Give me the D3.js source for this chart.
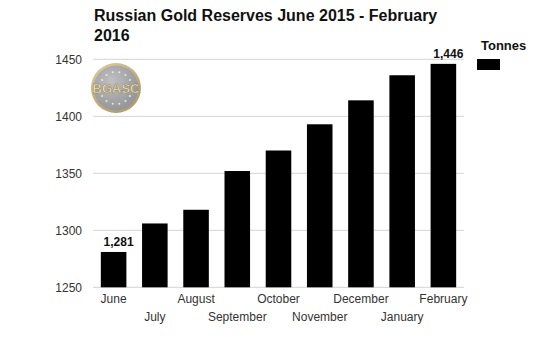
<!DOCTYPE html>
<html>
<head>
<meta charset="utf-8">
<script src="https://cdn.jsdelivr.net/npm/d3@7"></script>
<style>
  html, body { margin: 0; padding: 0; background: #fff; }
  svg { display: block; font-family: Arial, "Liberation Sans", sans-serif; }
</style>
</head>
<body>
<svg id="chart" width="551" height="338"></svg>
<script>
// Russian gold reserves, tonnes, monthly
const months = ["June", "July", "August", "September", "October", "November", "December", "January", "February"];
const tonnes = [1281, 1306, 1318, 1352, 1370, 1393, 1414, 1436, 1446];
const yTicks = [1250, 1300, 1350, 1400, 1450];
const labelled = { "June": "1,281", "February": "1,446" };
const titleLines = ["Russian Gold Reserves June 2015 - February", "2016"];
const seriesName = "Tonnes";

const svg = d3.select("#chart");
const plotLeft = 93, plotRight = 464, plotTop = 59.3, plotBottom = 287.3;

const x = d3.scaleBand().domain(months).range([plotLeft, plotRight]).paddingInner(0.38).paddingOuter(0.19);
const y = d3.scaleLinear().domain([1250, 1450]).range([plotBottom, plotTop]);

// title
const title = svg.append("text").attr("x", 94).attr("y", 21)
  .attr("font-size", 16).attr("font-weight", "bold").attr("fill", "#111");
titleLines.forEach((t, i) => title.append("tspan").attr("x", 94).attr("dy", i ? 20 : 0).text(t));

// gridlines
svg.append("g").selectAll("line").data(yTicks).join("line")
  .attr("x1", plotLeft).attr("x2", plotRight)
  .attr("y1", d => y(d)).attr("y2", d => y(d))
  .attr("stroke", "#d4d4d4").attr("stroke-width", 1);

// y axis labels
const yAxis = svg.append("g").attr("transform", `translate(${plotLeft},0)`)
  .call(d3.axisLeft(y).tickValues(yTicks).tickSize(0).tickPadding(11).tickFormat(d3.format("d")));
yAxis.select(".domain").remove();
yAxis.selectAll("text").attr("font-size", 12).attr("fill", "#333")
  .attr("font-family", "Arial, 'Liberation Sans', sans-serif");

// logo badge
const logo = svg.append("g").attr("transform", "translate(116,88)").attr("opacity", 0.9);
const defs = svg.append("defs");
const rim = defs.append("radialGradient").attr("id", "rim").attr("cx", "40%").attr("cy", "35%").attr("r", "70%");
rim.append("stop").attr("offset", "0%").attr("stop-color", "#efe0ad");
rim.append("stop").attr("offset", "100%").attr("stop-color", "#a98f55");
const face = defs.append("radialGradient").attr("id", "face").attr("cx", "40%").attr("cy", "35%").attr("r", "75%");
face.append("stop").attr("offset", "0%").attr("stop-color", "#b9babd");
face.append("stop").attr("offset", "100%").attr("stop-color", "#838489");
logo.append("circle").attr("r", 25).attr("fill", "url(#rim)");
logo.append("circle").attr("r", 22.5).attr("fill", "url(#face)");
logo.append("text").attr("text-anchor", "middle").attr("y", 5)
  .attr("font-size", 13).attr("font-weight", "bold").attr("fill", "#f4e6b0")
  .attr("stroke", "#7d6a3e").attr("stroke-width", 0.5).text("BGASC");
const dotAngles = d3.range(-60, 61, 24);
logo.selectAll("circle.dt").data(dotAngles.concat(dotAngles.map(a => a + 180))).join("circle")
  .attr("class", "dt").attr("r", 1)
  .attr("cx", a => 16 * Math.sin(a * Math.PI / 180))
  .attr("cy", a => -16 * Math.cos(a * Math.PI / 180))
  .attr("fill", "#f4e7b5");

// bars
svg.append("g").selectAll("rect").data(months).join("rect")
  .attr("x", d => x(d)).attr("width", x.bandwidth())
  .attr("y", (d, i) => y(tonnes[i])).attr("height", (d, i) => plotBottom - y(tonnes[i]))
  .attr("fill", "#000");

// value labels
svg.append("g").selectAll("text").data(months.filter(m => labelled[m])).join("text")
  .attr("x", d => x(d) + x.bandwidth() / 2 + 5)
  .attr("y", d => y(tonnes[months.indexOf(d)]) - 6)
  .attr("text-anchor", "middle").attr("font-size", 12).attr("font-weight", "bold").attr("fill", "#111")
  .text(d => labelled[d]);

// x axis labels, staggered in two rows
const xAxis = svg.append("g").attr("transform", `translate(0,${plotBottom})`)
  .call(d3.axisBottom(x).tickSize(0).tickPadding(0));
xAxis.select(".domain").remove();
xAxis.selectAll("text")
  .attr("font-size", 12).attr("fill", "#333")
  .attr("font-family", "Arial, 'Liberation Sans', sans-serif")
  .attr("dy", null)
  .attr("y", (d, i) => i % 2 === 0 ? 16 : 34);

// legend
svg.append("text").attr("x", 481).attr("y", 50)
  .attr("font-size", 13).attr("font-weight", "bold").attr("fill", "#111").text(seriesName);
svg.append("rect").attr("x", 477).attr("y", 59).attr("width", 23).attr("height", 11).attr("fill", "#000");
</script>
</body>
</html>
